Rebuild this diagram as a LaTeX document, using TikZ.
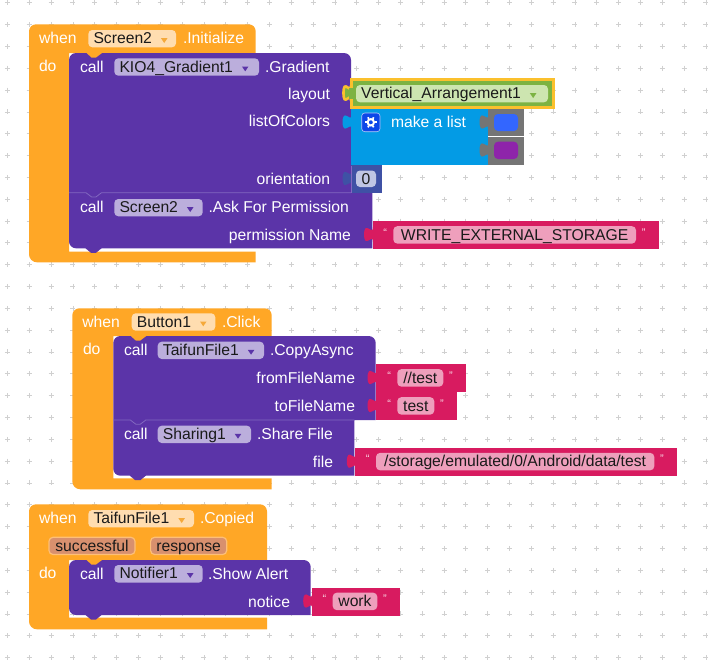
\documentclass[tikz,border=0pt]{standalone}
\usepackage{fontspec}
\setmainfont{Liberation Sans}
\definecolor{gridc}{HTML}{D0D0D0}
\definecolor{orng}{HTML}{FFA726}
\definecolor{orngf}{HTML}{FFDDB0}
\definecolor{orngt}{HTML}{F5A93A}
\definecolor{purp}{HTML}{5B34A8}
\definecolor{purpl}{HTML}{8268C0}
\definecolor{purpf}{HTML}{BBAEDC}
\definecolor{purpt}{HTML}{5B34A8}
\definecolor{pink}{HTML}{D81B60}
\definecolor{pinkf}{HTML}{EE9FBC}
\definecolor{lblue}{HTML}{039BE5}
\definecolor{gear}{HTML}{0D47E8}
\definecolor{nblue}{HTML}{3F51A5}
\definecolor{nfld}{HTML}{C0C6E4}
\definecolor{greyb}{HTML}{757575}
\definecolor{grn}{HTML}{7CB342}
\definecolor{grnf}{HTML}{CDE5B0}
\definecolor{yell}{HTML}{FBC02D}
\definecolor{parf}{HTML}{D8906E}
\definecolor{parl}{HTML}{FDBF78}
\definecolor{ink}{HTML}{1A1A1A}
\definecolor{swA}{HTML}{3366FF}
\definecolor{swB}{HTML}{8E24AA}
\newcommand{\hatblock}[8]{% L T R H IL B1 B2 name
  \fill[orng,rounded corners=7] (#1,#4) -- (#1,#2) -- (#3,#2) [sharp corners] -- (#3,#4) -- (#5,#4) -- (#5,#6) -- (#3,#6) -- (#3,#7) [rounded corners=8] -- (#1,#7) -- (#1,#4) -- cycle;
  \coordinate (#8) at (#1,#2);}
\newcommand{\callblock}[6]{% L T R M R2 B
  \fill[purp,rounded corners=7] (#1,#4) -- (#1,#2) -- (#3,#2) [sharp corners] -- (#3,#4) -- (#5,#4) -- (#5,#6) [rounded corners=7] -- (#1,#6) -- (#1,#4) -- cycle;
  \begin{scope}[shift={(#1,#6)}]\fill[purp] (16.5,-1) -- (16.5,0) -- (22,4.5) -- (27,4.5) -- (32.5,0) -- (32.5,-1) -- cycle;\end{scope}
  \begin{scope}[shift={(#1,#2)}]\fill[orng] (17.5,-1) -- (17.5,0) -- (22.5,4.5) -- (27,4.5) -- (33,0) -- (33,-1) -- cycle;\end{scope}}
\newcommand{\seam}[3]{% L M R
  \draw[purpl,line width=.8] (#1,#2) -- ++(17,0) -- ++(5.5,4.2) -- ++(4.5,0) -- ++(5.5,-4.2) -- (#3,#2);}
\newcommand{\ptab}[3]{% x ytop colour
  \begin{scope}[shift={(#1,#2)}]\fill[#3] (.5,0) .. controls (.5,10) and (-8,-8) .. (-8.5,7.5) .. controls (-8,23) and (.5,5) .. (.5,15) -- cycle;\end{scope}}
\newcommand{\lab}[5][white]{\node[lbl,text=#1,anchor=base west] (#2) at (#3,#4) {#5};}
\newcommand{\labr}[4]{\node[lbl,anchor=base east] (#1) at (#2,#3) {#4};}
\newcommand{\fieldbox}[9]{% name x1 y1 x2 y2 fill textcolor text trianglecolor (or none)
  \fill[#6,rounded corners=4] (#2,#3) rectangle (#4,#5);
  \node[lbl,text=#7,anchor=base west] (#1) at (#2+5.2,#3+13.8) {#8};
  \fill[#9] (#1.base east) ++(9,-5.6) -- ++(6.5,0) -- ++(-3.25,4.8) -- cycle;}
\newcommand{\textblock}[7]{% name L T R fx1 fx2 text
  \fill[pink] (#2,#3) rectangle (#4,#3+28);
  \ptab{#2}{#3+6}{pink}
  \fill[pinkf,rounded corners=4] (#5,#3+5.2) rectangle (#6,#3+22.6);
  \node[lbl,text=ink,anchor=base] (#1) at ({(#5+#6)/2},#3+19) {#7};
  \node[qt] (#1o) at (#5-8.2,#3+11.5) {“};
  \node[qt] (#1c) at (#6+7.6,#3+11.5) {”};}
\tikzset{
  lbl/.style={inner sep=0pt,outer sep=0pt,font=\fontsize{15.7}{18}\selectfont},
  qt/.style={inner sep=0pt,text=white!85!pink,font=\fontsize{11}{12}\selectfont}
}
\begin{document}
\begin{tikzpicture}[x=1pt,y=-1pt]
\useasboundingbox (0,0) rectangle (722,659);
\fill[white] (0,0) rectangle (722,659);
% workspace grid
\draw[gridc,line width=.7]
  \foreach \i in {0,...,32}{\foreach \j in {0,...,30}{
    ({7.4+21.83*\i-2.5},{2.7+21.83*\j}) -- ++(5,0) ({7.4+21.83*\i},{2.7+21.83*\j-2.5}) -- ++(0,5)}};
%
% ---------- Screen2.Initialize
\hatblock{29}{24.3}{255.7}{53}{69}{251.7}{262.3}{hatA}
\callblock{69}{53}{351}{192.7}{372.3}{248.3}
\seam{69}{192.7}{351}
\lab{whenA}{39}{43.3}{when}
\fieldbox{scrA}{88.3}{30}{176}{47.3}{orngf}{ink}{Screen2}{orngt}
\lab{initA}{183}{43.3}{.Initialize}
\lab{doA}{39}{71}{do}
\lab{callA}{80}{72.2}{call}
\fieldbox{kio}{114.3}{58.3}{259}{75.7}{purpf}{ink}{KIO4\_Gradient1}{purpt}
\lab{gradA}{265}{72.2}{.Gradient}
\labr{layoutA}{330}{99}{\textcolor{white}{layout}}
\labr{listA}{330}{126.8}{\textcolor{white}{listOfColors}}
\labr{orientA}{330}{184}{\textcolor{white}{orientation}}
\lab{callB}{80}{212.2}{call}
\fieldbox{scrB}{114.3}{199}{202.7}{216.3}{purpf}{ink}{Screen2}{purpt}
\lab{askA}{208.5}{212.2}{.Ask For Permission}
\labr{permA}{351}{240}{\textcolor{white}{permission Name}}
% make a list
\fill[lblue] (351,108) rectangle (488,164.5);
\ptab{351}{114.5}{lblue}
\fill[gear,rounded corners=3] (361.7,113) rectangle (380,131.7);
\draw[white!70!gear,line width=.6,rounded corners=3] (361.7,113) rectangle (380,131.7);
\node[inner sep=0pt] (gearicon) at (370.8,122.3) {};
\draw[white,line width=2] (gearicon) circle (3.2);
\foreach \a in {0,60,...,300}{\draw[white,line width=1.7] (gearicon) ++(\a:4) -- ++(\a:1.8);}
\lab{mkl}{391}{127}{make a list}
\fill[greyb] (488,108) rectangle (524.3,136.2);
\fill[greyb] (488,137) rectangle (524.3,164.5);
\ptab{488}{114.5}{greyb}
\ptab{488}{142.5}{greyb}
\fill[swA,rounded corners=4] (494,114) rectangle (518,131);
\fill[swB,rounded corners=4] (494,141.7) rectangle (518,159);
% number
\fill[nblue] (351,165) rectangle (382.3,193);
\ptab{351}{171}{nblue}
\draw[purpl,line width=.5] (351.3,165.5) -- (351.3,192.7);
\fill[nfld,rounded corners=4] (356,170.5) rectangle (376,187);
\node[lbl,text=ink,anchor=base] (zero) at (366,184) {0};
% Vertical_Arrangement1
\begin{scope}[shift={(351,85.5)}]
\filldraw[draw=yell,fill=grn,line width=2.6] (0,0) .. controls (0,10) and (-7.5,-8) .. (-7.5,7.5) .. controls (-7.5,23) and (0,5) .. (0,15);
\end{scope}
\filldraw[draw=yell,fill=grn,line width=3] (351.5,79.8) rectangle (553.5,107.6);
\fill[grn] (349,88) rectangle (353.2,99);
\fieldbox{vert}{356}{85}{548}{102.3}{grnf}{ink}{Vertical\_Arrangement1}{grn}
% WRITE_EXTERNAL_STORAGE
\textblock{perm}{372.5}{221}{659.3}{393.3}{636}{WRITE\_EXTERNAL\_STORAGE}
%
% ---------- Button1.Click
\hatblock{72.3}{308.3}{271.7}{336}{113.3}{478.3}{489.3}{hatB}
\callblock{113.3}{336}{375.7}{420}{354.3}{475.7}
\seam{113.3}{420}{354.3}
\lab{whenB}{82.3}{327}{when}
\fieldbox{btn}{131.7}{313.3}{215.3}{330.7}{orngf}{ink}{Button1}{orngt}
\lab{clk}{222}{327}{.Click}
\lab{doB}{83}{354.5}{do}
\lab{callC}{124}{355.5}{call}
\fieldbox{taif}{157.7}{341.7}{264}{359}{purpf}{ink}{TaifunFile1}{purpt}
\lab{copy}{270}{355.5}{.CopyAsync}
\labr{fromf}{355}{383}{\textcolor{white}{fromFileName}}
\labr{tof}{355}{411}{\textcolor{white}{toFileName}}
\lab{callD}{124}{439.5}{call}
\fieldbox{shr}{157.7}{425.7}{251}{443}{purpf}{ink}{Sharing1}{purpt}
\lab{shf}{257}{439.5}{.Share File}
\labr{filel}{333}{467}{\textcolor{white}{file}}
\textblock{tfrom}{376}{364}{465.7}{397.3}{443.3}{//test}
\textblock{tto}{376}{392}{456.7}{397.3}{434.3}{test}
\textblock{tpath}{355.3}{447.7}{676.7}{376}{654.3}{/storage/emulated/0/Android/data/test}
%
% ---------- TaifunFile1.Copied
\hatblock{29}{504.3}{267}{560}{69}{617.7}{629.3}{hatC}
\callblock{69}{560}{310.7}{587}{310.7}{615}
\lab{whenC}{39}{523.8}{when}
\fieldbox{tfc}{88.3}{510}{194}{527.3}{orngf}{ink}{TaifunFile1}{orngt}
\lab{cop}{200}{523.8}{.Copied}
\fill[parf,draw=parl,line width=1.2,rounded corners=4] (49,537.3) rectangle (135,554.5);
\node[lbl,text=ink,anchor=base] (succ) at (92,551) {successful};
\fill[parf,draw=parl,line width=1.2,rounded corners=4] (150.6,537.3) rectangle (226.7,554.5);
\node[lbl,text=ink,anchor=base] (resp) at (188.6,551) {response};
\lab{doC}{39}{578}{do}
\lab{callE}{80}{579.2}{call}
\fieldbox{ntf}{114.3}{565}{202.7}{582.7}{purpf}{ink}{Notifier1}{purpt}
\lab{shal}{208}{579.2}{.Show Alert}
\labr{notc}{290}{607}{\textcolor{white}{notice}}
\textblock{twork}{311.7}{587.5}{400}{332.7}{377.3}{work}
\end{tikzpicture}
\end{document}
